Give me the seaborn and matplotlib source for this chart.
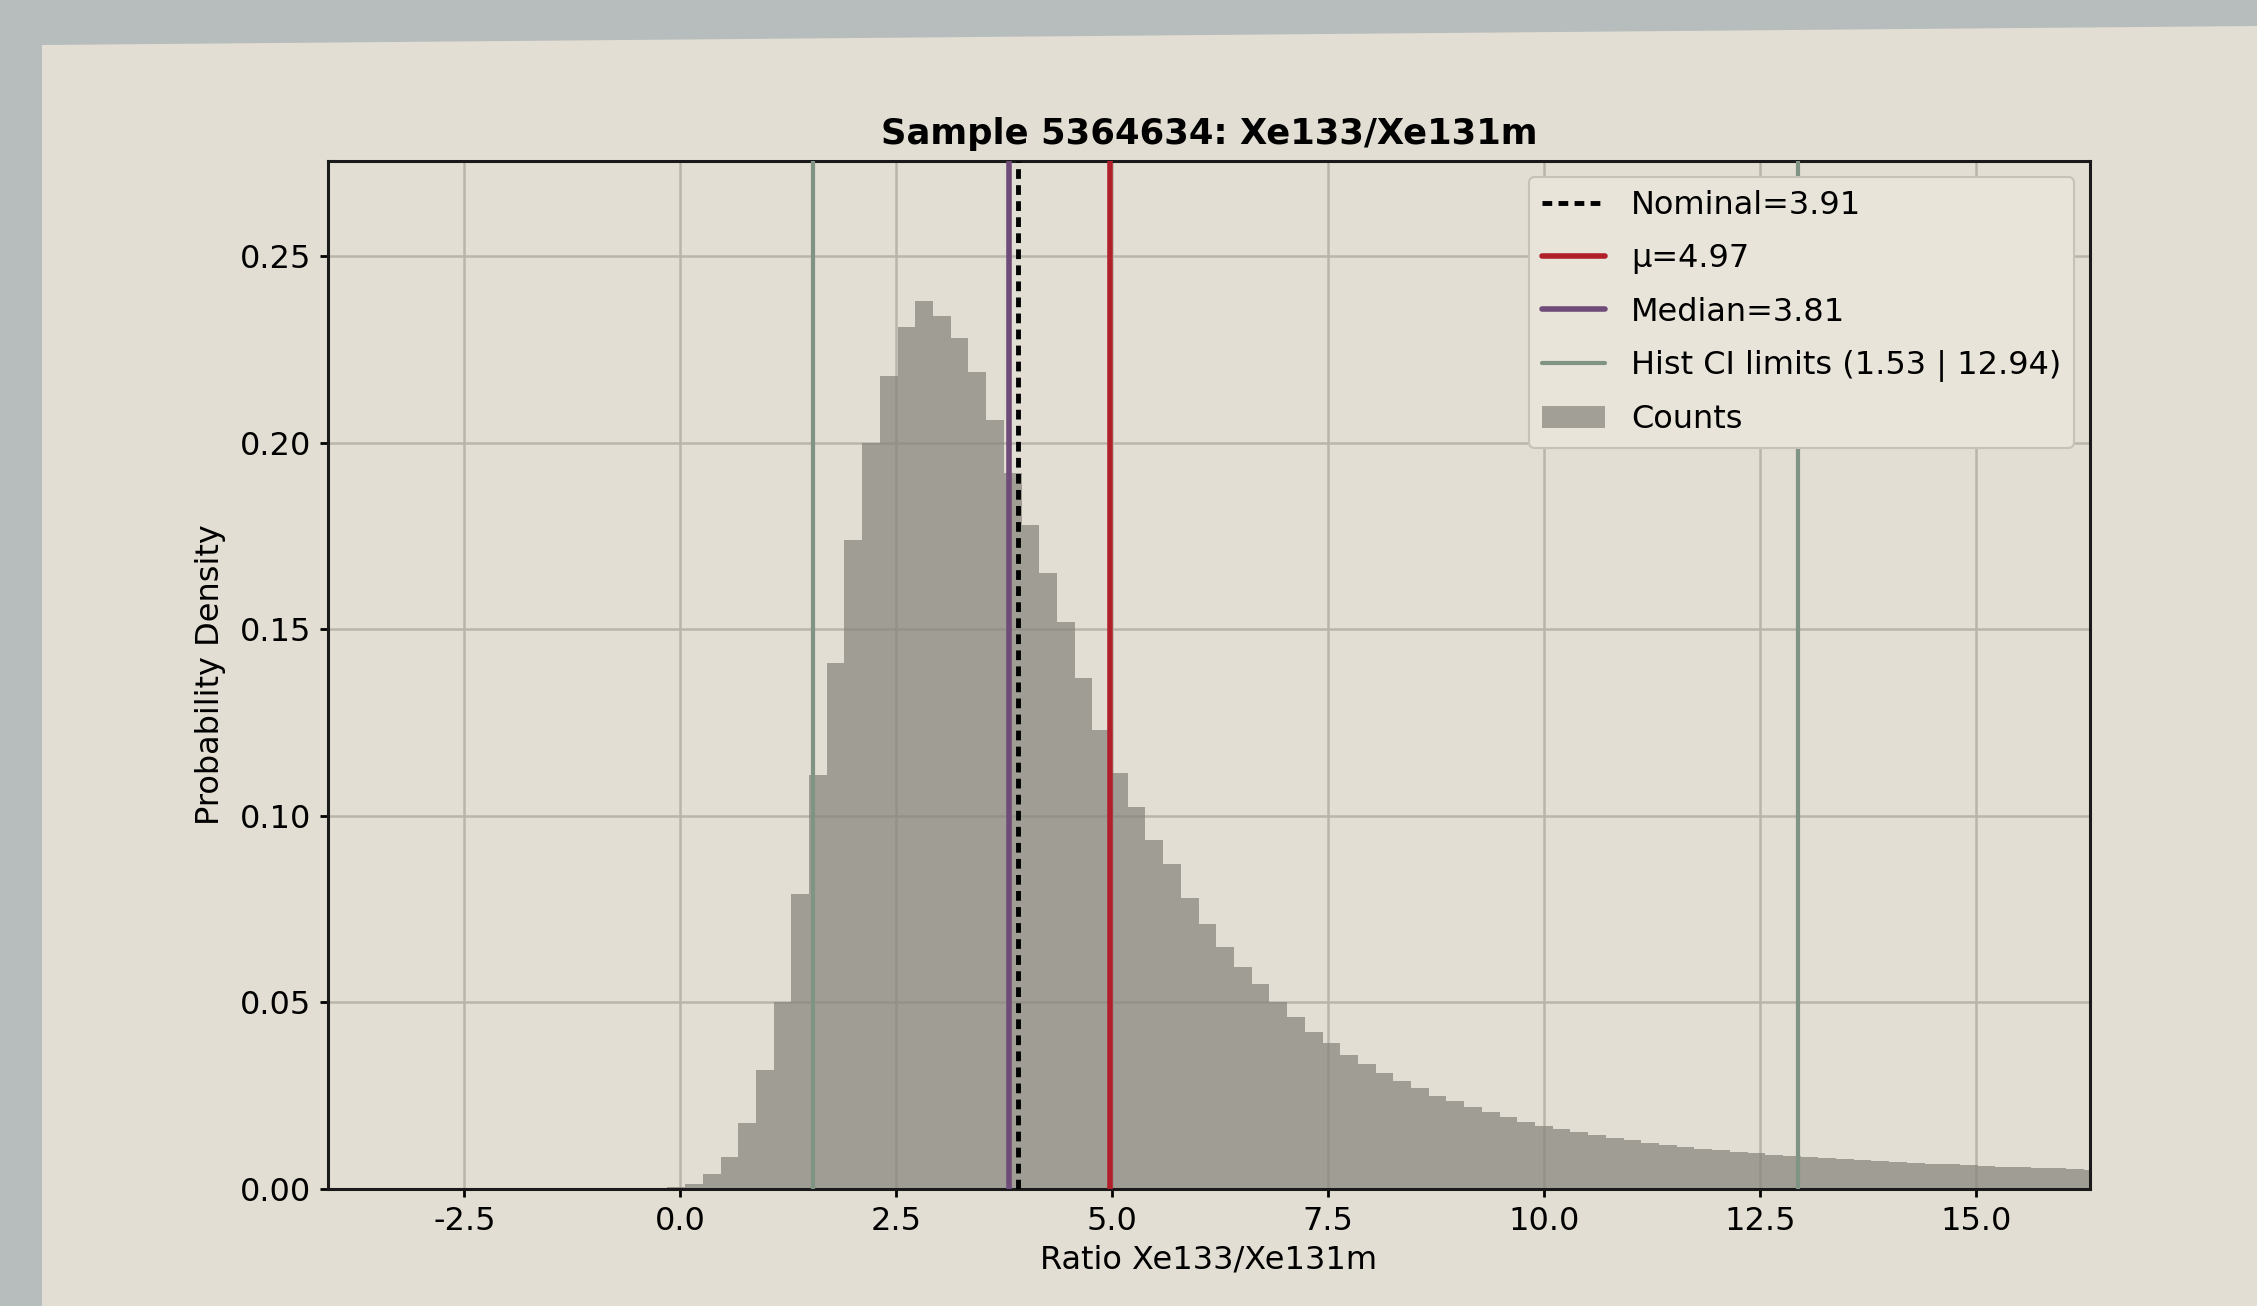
import numpy as np
import pandas as pd
import matplotlib
matplotlib.use("Agg")
import matplotlib.pyplot as plt
import seaborn as sns
from matplotlib.lines import Line2D
from matplotlib.patches import Patch, Polygon

# ---------------- data ----------------
bin_start = -0.15
bin_width = 0.205
density = [
    0.0004, 0.0014, 0.0040, 0.0086, 0.0176, 0.0320, 0.0500, 0.0790, 0.1110, 0.1410,
    0.1740, 0.2000, 0.2180, 0.2310, 0.2380, 0.2340, 0.2280, 0.2190, 0.2060, 0.1920,
    0.1780, 0.1650, 0.1520, 0.1370, 0.1230, 0.1115, 0.1025, 0.0936, 0.0870, 0.0780,
    0.0710, 0.0648, 0.0594, 0.0549, 0.0500, 0.0460, 0.0420, 0.0390, 0.0360, 0.0335,
    0.0310, 0.0290, 0.0270, 0.0250, 0.0235, 0.0220, 0.0205, 0.0192, 0.0180, 0.0170,
    0.0160, 0.0152, 0.0144, 0.0137, 0.0130, 0.0124, 0.0118, 0.0113, 0.0108, 0.0104,
    0.0100, 0.0096, 0.0092, 0.0089, 0.0086, 0.0083, 0.0080, 0.0077, 0.0075, 0.0072,
    0.0070, 0.0068, 0.0066, 0.0064, 0.0062, 0.0060, 0.0058, 0.0057, 0.0055, 0.0054,
    0.0052, 0.0051,
]
nominal = 3.91
mean_val = 4.97
median_val = 3.81
ci_low, ci_high = 1.53, 12.94
x_ticks = [-2.5, 0.0, 2.5, 5.0, 7.5, 10.0, 12.5, 15.0]
y_ticks = [0.00, 0.05, 0.10, 0.15, 0.20, 0.25]
title = "Sample 5364634: Xe133/Xe131m"
x_label = "Ratio Xe133/Xe131m"
y_label = "Probability Density"

edges = [bin_start + bin_width * i for i in range(len(density) + 1)]
centers = [(edges[i] + edges[i + 1]) / 2 for i in range(len(density))]
df = pd.DataFrame({"ratio": centers, "density": density})

# ---------------- style ----------------
sns.set_style("ticks", {"axes.edgecolor": "black", "grid.color": "#b9b5aa"})
plt.rcParams["font.family"] = ["DejaVu Sans"]
plt.rcParams["text.color"] = "black"
plt.rcParams["axes.labelcolor"] = "black"
plt.rcParams["xtick.color"] = "black"
plt.rcParams["ytick.color"] = "black"

BG = "#e2ded3"
fig = plt.figure(figsize=(22.57, 13.06), dpi=100, facecolor="#b7bcbc")
bg_poly = Polygon([(42 / 2257, 0), (42 / 2257, 1 - 45 / 1306),
                   (1, 1 - 26 / 1306), (1, 0)], closed=True,
                  transform=fig.transFigure, facecolor=BG,
                  edgecolor="none", zorder=-10)
fig.patches.append(bg_poly)

ax = fig.add_axes([0.1453, 0.0896, 0.7807, 0.7871])
ax.set_zorder(1)
ax.set_facecolor(BG)
ax.set_axisbelow(True)
ax.grid(True, color="#b9b5aa", linewidth=1.8)

hist_color = "#84827a"
sns.histplot(data=df, x="ratio", weights="density", bins=edges,
             element="step", fill=True, color=hist_color, alpha=0.7,
             linewidth=0, ax=ax)

ci_color = "#7f9484"
red = "#b11f2a"
purple = "#6e4b79"
ax.axvline(ci_low, color=ci_color, lw=3.0, zorder=4)
ax.axvline(ci_high, color=ci_color, lw=3.0, zorder=4)
ax.axvline(median_val, color=purple, lw=4.0, zorder=5)
ax.axvline(mean_val, color=red, lw=4.0, zorder=5)
ax.axvline(nominal, color="black", lw=3.5, ls=(0, (2.0, 1.3)), zorder=6)

ax.set_xlim(-4.08, 16.32)
ax.set_ylim(0, 0.2755)
ax.set_xticks(x_ticks)
ax.set_yticks(y_ticks)
ax.set_xticklabels([f"{t:.1f}" if t >= 0 else f"-{abs(t):.1f}" for t in x_ticks])
ax.set_yticklabels([f"{t:.2f}" for t in y_ticks])
ax.tick_params(axis="both", labelsize=23, length=6, width=2, pad=6,
               color="black", labelcolor="black")
for s in ax.spines.values():
    s.set_linewidth(2.2)
    s.set_color("#1a1a1a")

ax.set_title(title, fontsize=25.5, fontweight="bold", pad=12, color="black")
ax.set_xlabel(x_label, fontsize=23, labelpad=6, color="black")
ax.set_ylabel(y_label, fontsize=23, labelpad=10, color="black")

handles = [
    Line2D([], [], color="black", lw=3.5, ls=(0, (2.0, 1.3))),
    Line2D([], [], color=red, lw=4.0),
    Line2D([], [], color=purple, lw=4.0),
    Line2D([], [], color=ci_color, lw=3.0),
    Patch(facecolor=hist_color, alpha=0.7, edgecolor="none"),
]
labels = [
    f"Nominal={nominal:.2f}",
    f"\u03bc={mean_val:.2f}",
    f"Median={median_val:.2f}",
    f"Hist CI limits ({ci_low:.2f} | {ci_high:.2f})",
    "Counts",
]
leg = ax.legend(handles, labels, loc="upper right", fontsize=23,
                frameon=True, facecolor="#e8e4da", edgecolor="#c6c2b8",
                framealpha=1.0, fancybox=True, labelspacing=0.7)
leg.get_frame().set_linewidth(1.5)
for t in leg.get_texts():
    t.set_color("black")

fig.savefig("out.png", dpi=100, facecolor=fig.get_facecolor())
